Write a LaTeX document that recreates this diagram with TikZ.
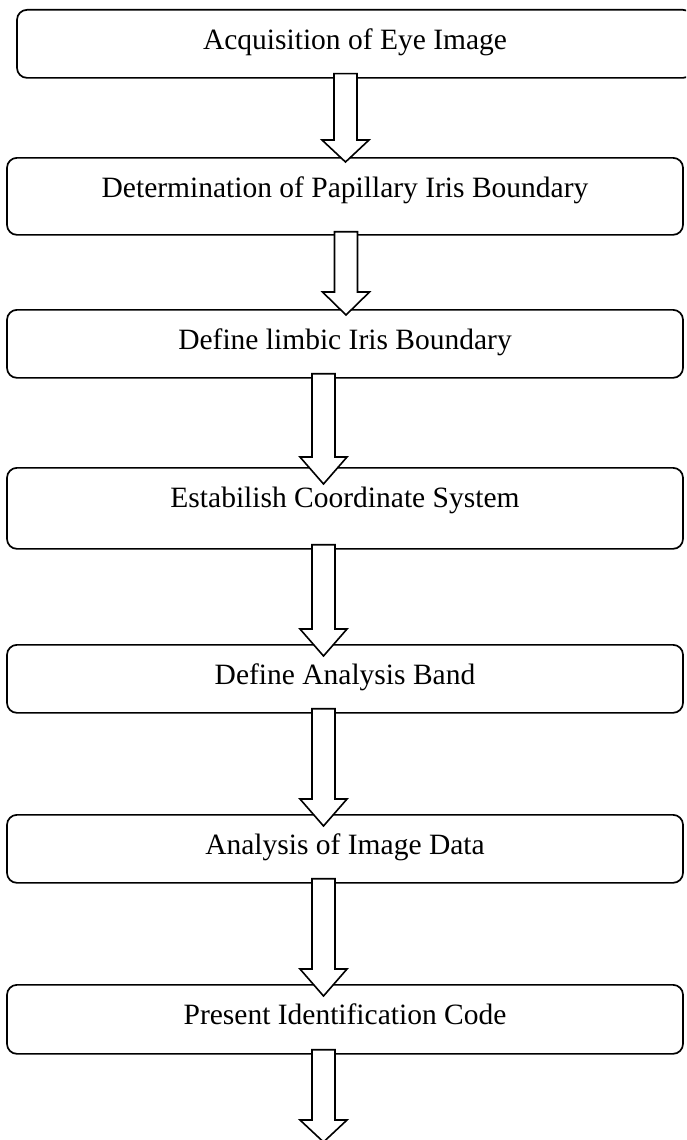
\documentclass[tikz,border=0pt]{standalone}
\usepackage{fontspec}
\setmainfont{Liberation Serif}
\usetikzlibrary{calc}
% hollow block arrow from a start point to a tip: #1 start, #2 tip, #3 head length
\newcommand\blockarrow[3]{%
  \draw[flowarrow] ($(#1)+(-11.5,0)$) -- ($(#2)+(-11.5,-#3)$) -- ($(#2)+(-23.5,-#3)$)
    -- (#2) -- ($(#2)+(23.5,-#3)$) -- ($(#2)+(11.5,-#3)$) -- ($(#1)+(11.5,0)$) -- cycle;}
\begin{document}
\begin{tikzpicture}[x=1pt,y=-1pt,
  stage/.style={draw, line width=1.7pt, rounded corners=10pt, inner sep=0pt,
    anchor=north, minimum width=676pt, text height=40pt,
    font=\fontsize{29.5}{35}\selectfont},
  flowarrow/.style={draw, fill=white, line width=1.6pt, line join=miter}]
\useasboundingbox (0,0) rectangle (686,1140);
\clip (0,0) rectangle (686,1140);

% process stages
\node[stage, text depth=28pt] (b1) at (355,9)   {Acquisition of Eye Image};
\node[stage, text depth=37pt] (b2) at (345,157) {Determination of Papillary Iris Boundary};
\node[stage, text depth=28pt] (b3) at (345,309) {Define limbic Iris Boundary};
\node[stage, text depth=41pt] (b4) at (345,467) {Estabilish Coordinate System};
\node[stage, text depth=28pt] (b5) at (345,644) {Define Analysis Band};
\node[stage, text depth=28pt] (b6) at (345,814) {Analysis of Image Data};
\node[stage, text depth=29pt] (b7) at (345,984) {Present Identification Code};

% arrow end points
\coordinate (a1s) at ($(b1.south)+(-9.5,-5)$);
\coordinate (a1t) at ($(b2.north)+(0.5,5)$);
\coordinate (a2s) at ($(b2.south)+(1,-4)$);
\coordinate (a2t) at ($(b3.north)+(1,6)$);
\coordinate (a3s) at ($(b3.south)+(-21.5,-5)$);
\coordinate (a3t) at ($(b4.north)+(-21.5,17)$);
\coordinate (a4s) at ($(b4.south)+(-21.5,-5)$);
\coordinate (a4t) at ($(b5.north)+(-21.5,12)$);
\coordinate (a5s) at ($(b5.south)+(-21.5,-5)$);
\coordinate (a5t) at ($(b6.north)+(-21.5,12)$);
\coordinate (a6s) at ($(b6.south)+(-21.5,-5)$);
\coordinate (a6t) at ($(b7.north)+(-21.5,12)$);
\coordinate (a7s) at ($(b7.south)+(-21.5,-5)$);
\coordinate (a7t) at (323.5,1142);

% connecting arrows
\blockarrow{a1s}{a1t}{22}
\blockarrow{a2s}{a2t}{23}
\blockarrow{a3s}{a3t}{27}
\blockarrow{a4s}{a4t}{27}
\blockarrow{a5s}{a5t}{27}
\blockarrow{a6s}{a6t}{27}
\blockarrow{a7s}{a7t}{22}
\end{tikzpicture}
\end{document}
